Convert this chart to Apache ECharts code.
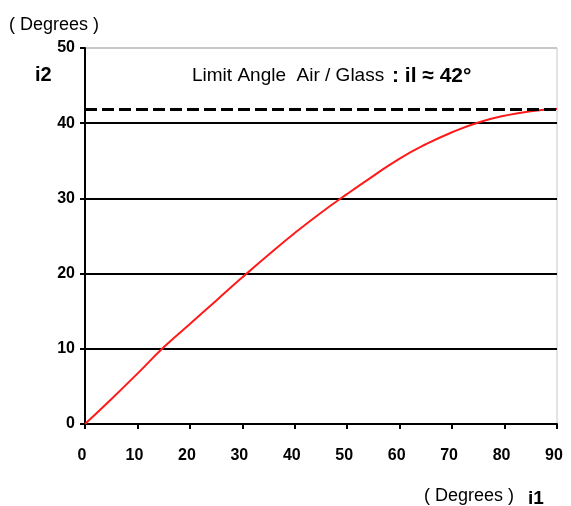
<!DOCTYPE html>
<html><head><meta charset="utf-8">
<script src="https://cdn.jsdelivr.net/npm/echarts@6/dist/echarts.min.js"></script>
<style>html,body{margin:0;padding:0;background:#fff}#c{width:571px;height:506px}</style>
</head><body><div id="c"></div>
<script>
var incidence = [0,5,10,15,20,25,30,35,40,45,50,55,60,65,70,75,80,85,90];
var refraction = [0,3.3,6.7,10.2,13.3,16.4,19.5,22.5,25.4,28.1,30.6,33.0,35.3,37.2,38.8,40.1,41.0,41.6,41.9];
var limitAngle = [41.9];
var xTicks = [0,10,20,30,40,50,60,70,80,90];
var yTicks = [0,10,20,30,40,50];

var chart = echarts.init(document.getElementById('c'));
var font = 'Liberation Sans, Arial, sans-serif';
chart.setOption({
  animation: false,
  grid: {left: 85, right: 14, top: 48, bottom: 82, show: true, borderColor: '#c8c8c8', borderWidth: 1},
  xAxis: {
    type: 'value', min: 0, max: 90, interval: 10,
    axisLine: {lineStyle: {color: '#000', width: 2}},
    axisTick: {show: true, length: 5, lineStyle: {color: '#000', width: 2}},
    axisLabel: {color: '#000', fontFamily: font, fontWeight: 'bold', fontSize: 16, margin: 24, padding: [0, 6, 0, 0]},
    splitLine: {show: false}
  },
  yAxis: {
    type: 'value', min: 0, max: 50, interval: 10,
    axisLine: {show: true, lineStyle: {color: '#000', width: 2}},
    axisTick: {show: true, length: 5, lineStyle: {color: '#000', width: 2}},
    axisLabel: {color: '#000', fontFamily: font, fontWeight: 'bold', fontSize: 16, margin: 10},
    splitLine: {show: true, lineStyle: {color: ['#000','#000','#000','#000','#000','#c8c8c8'], width: 2}}
  },
  series: [{
    type: 'line',
    data: incidence.map(function(x, i){ return [x, refraction[i]]; }),
    showSymbol: false, smooth: true,
    lineStyle: {color: '#ff1a1a', width: 2},
    markLine: {
      silent: true, symbol: 'none', label: {show: false},
      lineStyle: {color: '#000', type: [12, 5], width: 3},
      data: [{yAxis: limitAngle[0]}]
    }
  }],
  graphic: [
    {type: 'text', left: 9, top: 16, style: {text: '( Degrees )', font: '18px ' + font, fill: '#000'}},
    {type: 'text', left: 35, top: 65, style: {text: 'i2', font: 'bold 20px ' + font, fill: '#000'}},
    {type: 'text', left: 192, top: 66, style: {text: 'Limit Angle  Air / Glass', font: '19px ' + font, fill: '#000'}},
    {type: 'text', left: 392, top: 66, style: {text: ': il \u2248 42\u00b0', font: 'bold 21px ' + font, fill: '#000'}},
    {type: 'text', left: 424, top: 487, style: {text: '( Degrees )', font: '18px ' + font, fill: '#000'}},
    {type: 'text', left: 528, top: 489, style: {text: 'i1', font: 'bold 19px ' + font, fill: '#000'}}
  ]
});
</script></body></html>
